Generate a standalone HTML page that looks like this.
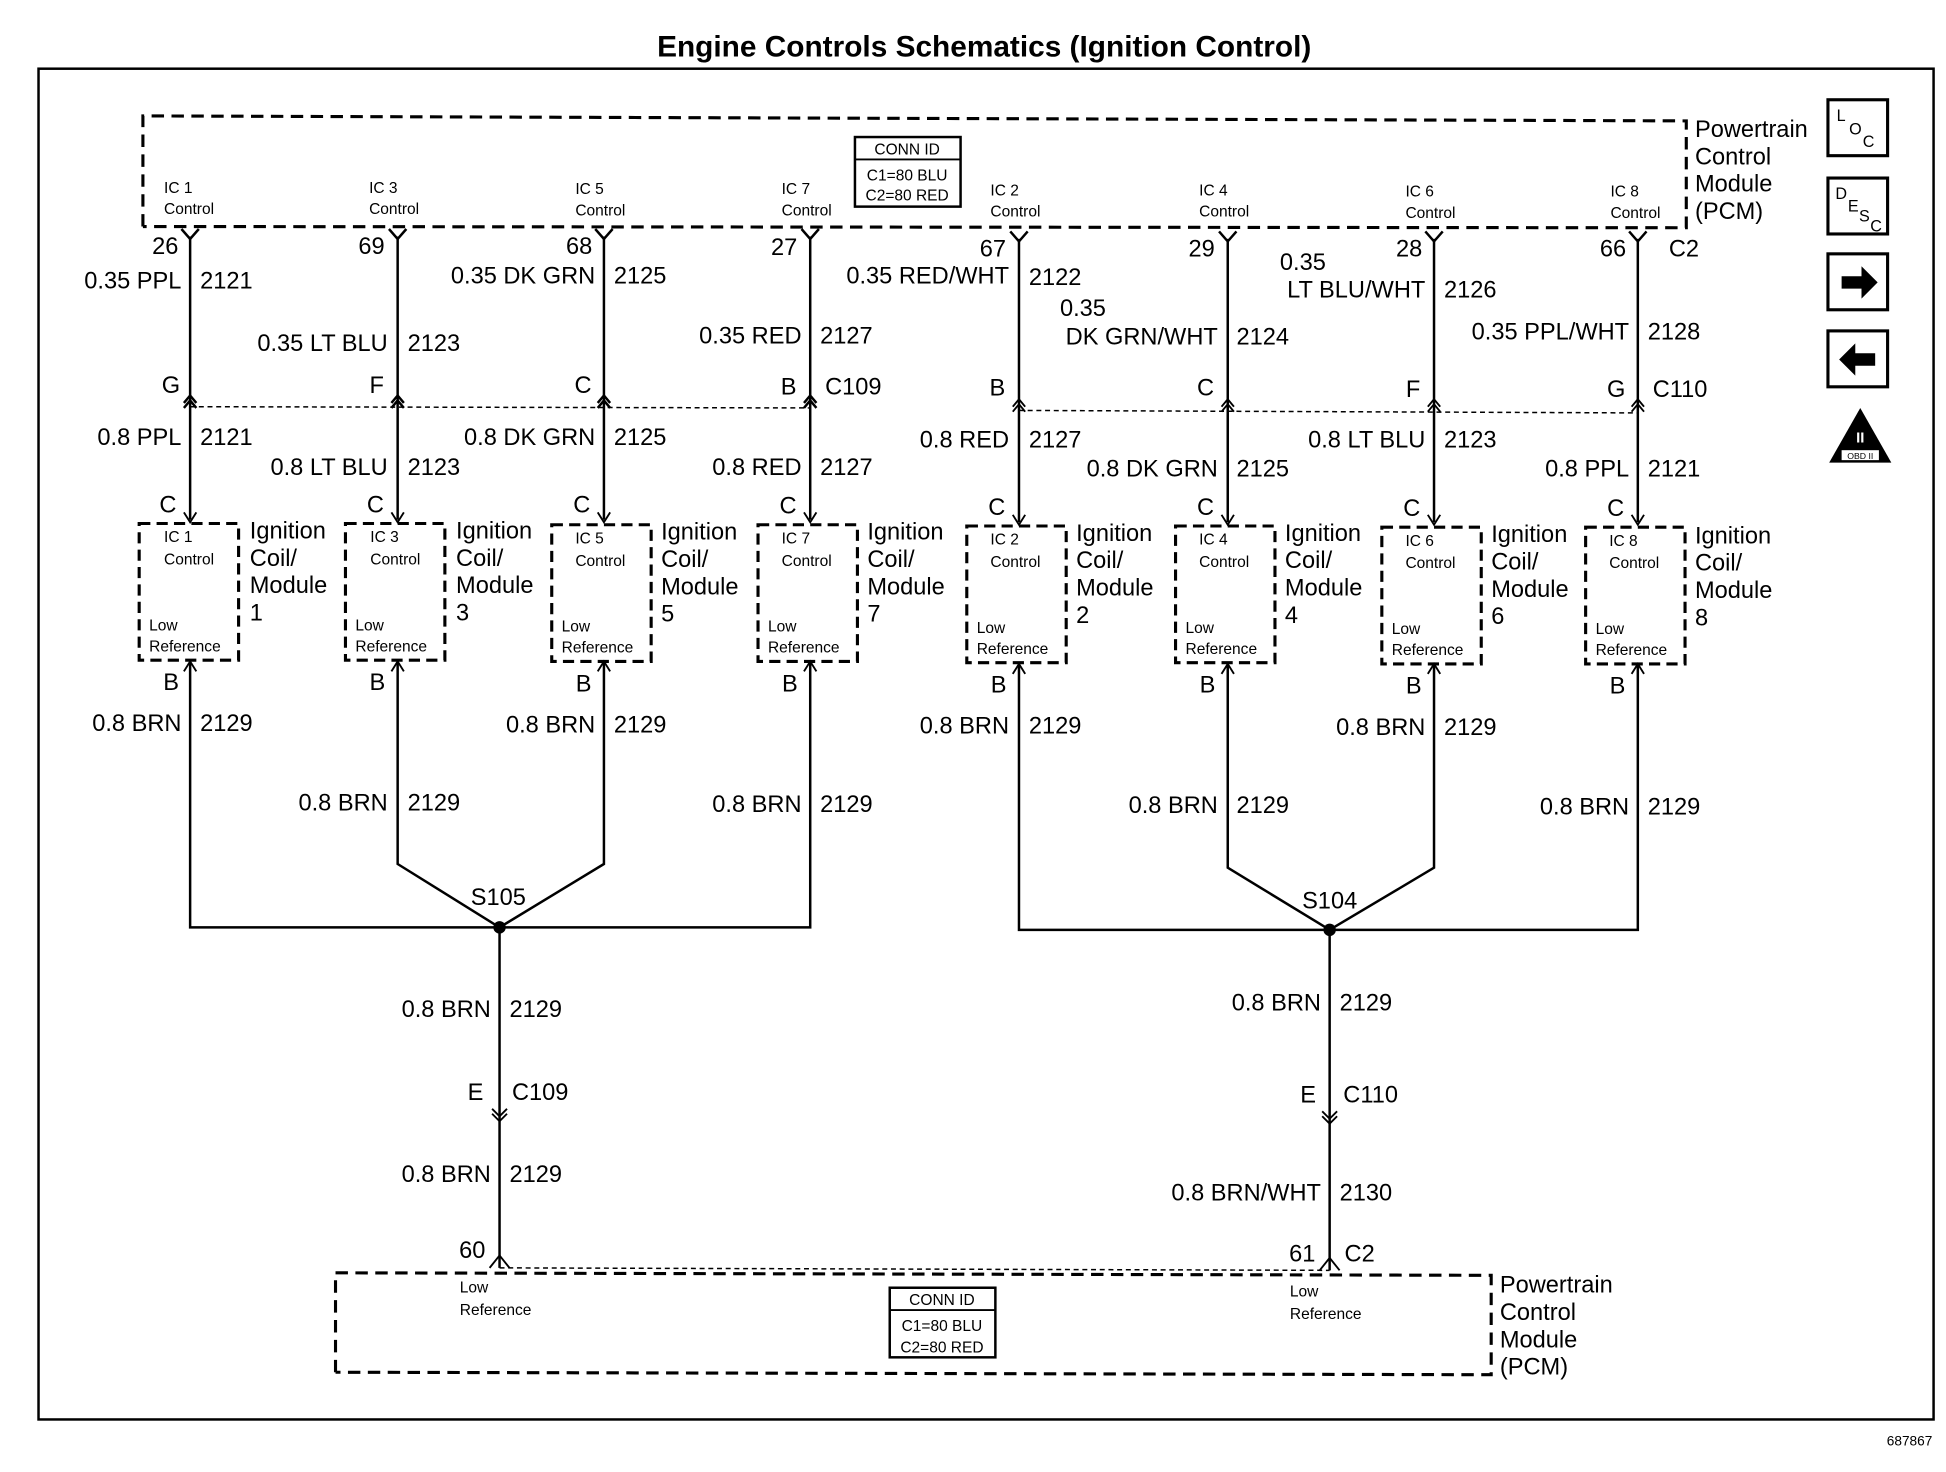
<!DOCTYPE html>
<html><head><meta charset="utf-8"><style>
html,body{margin:0;padding:0;background:#fff;}
svg{display:block}
text{font-family:"Liberation Sans",Arial,sans-serif;fill:#000}
.w{font-size:19px}
.s{font-size:12.5px}
.m{font-size:19px}
</style></head><body>
<svg width="1946" height="1472" viewBox="0 0 1566 1184" xmlns="http://www.w3.org/2000/svg">
<rect width="1566" height="1184" fill="#fff"/>
<text x="792" y="45" text-anchor="middle" style="font-size:24px;font-weight:bold">Engine Controls Schematics (Ignition Control)</text>
<rect x="31" y="55" width="1525" height="1087" fill="none" stroke="#000" stroke-width="2"/>

<path d="M115,182 L115,93 L1357,97 L1357,183 L115,182" fill="none" stroke="#000" stroke-width="2.5" stroke-dasharray="10,6"/>
<rect x="688" y="110" width="85" height="56" fill="none" stroke="#000" stroke-width="2"/>
<line x1="688" y1="128" x2="773" y2="128" stroke="#000" stroke-width="1.5"/>
<text x="730" y="124" text-anchor="middle" class="s">CONN ID</text>
<text x="730" y="145" text-anchor="middle" class="s">C1=80 BLU</text>
<text x="730" y="161" text-anchor="middle" class="s">C2=80 RED</text>
<text x="1364" y="110" class="m">Powertrain</text>
<text x="1364" y="132" class="m">Control</text>
<text x="1364" y="154" class="m">Module</text>
<text x="1364" y="176" class="m">(PCM)</text>

<path d="M270,1104 L270,1024 L1200,1026 L1200,1106 L270,1104" fill="none" stroke="#000" stroke-width="2.5" stroke-dasharray="10,6"/>
<rect x="716" y="1036" width="85" height="56" fill="none" stroke="#000" stroke-width="2"/>
<line x1="716" y1="1054" x2="801" y2="1054" stroke="#000" stroke-width="1.5"/>
<text x="758" y="1050" text-anchor="middle" class="s">CONN ID</text>
<text x="758" y="1071" text-anchor="middle" class="s">C1=80 BLU</text>
<text x="758" y="1088" text-anchor="middle" class="s">C2=80 RED</text>
<text x="1207" y="1040" class="m">Powertrain</text>
<text x="1207" y="1062" class="m">Control</text>
<text x="1207" y="1084" class="m">Module</text>
<text x="1207" y="1106" class="m">(PCM)</text>
<text x="370" y="1040" class="s">Low</text><text x="370" y="1058" class="s">Reference</text>
<text x="1038" y="1043" class="s">Low</text><text x="1038" y="1061" class="s">Reference</text>
<text x="380" y="1012" text-anchor="middle" class="w">60</text>
<text x="1048" y="1015" text-anchor="middle" class="w">61</text>
<text x="1082" y="1015" class="w">C2</text>
<path d="M394,1020 L402,1010 L410,1020 M1062,1022 L1070,1012 L1078,1022" fill="none" stroke="#000" stroke-width="1.5"/>
<line x1="402" y1="1020" x2="1070" y2="1022" stroke="#000" stroke-width="1.2" stroke-dasharray="4,3"/>

<line x1="153" y1="327" x2="652" y2="328" stroke="#000" stroke-width="1.2" stroke-dasharray="4,3"/>
<line x1="820" y1="330" x2="1318" y2="332" stroke="#000" stroke-width="1.2" stroke-dasharray="4,3"/>
<text x="664" y="317" class="w">C109</text>
<text x="1330" y="319" class="w">C110</text>
<text x="1343" y="206" class="w">C2</text>

<g stroke="#000" stroke-width="2" fill="none">
<path d="M153,190V418 M320,190V418 M486,190V418 M652,190V418 M820,192V420 M988,192V420 M1154,192V420 M1318,192V420"/>
<path d="M146,184L153,192L160,184 M313,184L320,192L327,184 M479,184L486,192L493,184 M645,184L652,192L659,184 M813,186L820,194L827,186 M981,186L988,194L995,186 M1147,186L1154,194L1161,186 M1311,186L1318,194L1325,186"/>
<path d="M148,324L153,318L158,324 M148,328L153,322L158,328 M315,324L320,318L325,324 M315,328L320,322L325,328 M481,324L486,318L491,324 M481,328L486,322L491,328 M647,324L652,318L657,324 M647,328L652,322L657,328"/>
<path d="M815,327L820,321L825,327 M815,331L820,325L825,331 M983,327L988,321L993,327 M983,331L988,325L993,331 M1149,327L1154,321L1159,327 M1149,331L1154,325L1159,331 M1313,327L1318,321L1323,327 M1313,331L1318,325L1323,331" stroke-width="1.5"/>
<path d="M148,412L153,420L158,412 M315,412L320,420L325,412 M481,412L486,420L491,412 M647,412L652,420L657,412 M815,414L820,422L825,414 M983,414L988,422L993,414 M1149,414L1154,422L1159,414 M1313,414L1318,422L1323,414" stroke-width="1.5"/>
<path d="M148,540L153,532L158,540 M315,540L320,532L325,540 M481,540L486,532L491,540 M647,540L652,532L657,540 M815,542L820,534L825,542 M983,542L988,534L993,542 M1149,542L1154,534L1159,542 M1313,542L1318,534L1323,542" stroke-width="1.5"/>
<path d="M153,533V746H652V533 M320,533V695L402,746L486,695V533 M402,746V1020"/>
<path d="M820,535V748H1318V535 M988,535V698L1070,748L1154,698V535 M1070,748V1022"/>
<path d="M396,892L402,898L408,892 M396,896L402,902L408,896 M1064,894L1070,900L1076,894 M1064,898L1070,904L1076,898" stroke-width="1.5"/>
</g>
<circle cx="402" cy="746" r="5" fill="#000"/>
<circle cx="1070" cy="748" r="5" fill="#000"/>

<g fill="none" stroke="#000" stroke-width="2.5" stroke-dasharray="9,5">
<rect x="112" y="421" width="80" height="110"/>
<rect x="278" y="421" width="80" height="110"/>
<rect x="444" y="422" width="80" height="110"/>
<rect x="610" y="422" width="80" height="110"/>
<rect x="778" y="423" width="80" height="110"/>
<rect x="946" y="423" width="80" height="110"/>
<rect x="1112" y="424" width="80" height="110"/>
<rect x="1276" y="424" width="80" height="110"/>
</g>

<g class="s">
<text x="132" y="436" class="s">IC 1</text><text x="132" y="454" class="s">Control</text><text x="120" y="507" class="s">Low</text><text x="120" y="524" class="s">Reference</text>
<text x="298" y="436" class="s">IC 3</text><text x="298" y="454" class="s">Control</text><text x="286" y="507" class="s">Low</text><text x="286" y="524" class="s">Reference</text>
<text x="463" y="437" class="s">IC 5</text><text x="463" y="455" class="s">Control</text><text x="452" y="508" class="s">Low</text><text x="452" y="525" class="s">Reference</text>
<text x="629" y="437" class="s">IC 7</text><text x="629" y="455" class="s">Control</text><text x="618" y="508" class="s">Low</text><text x="618" y="525" class="s">Reference</text>
<text x="797" y="438" class="s">IC 2</text><text x="797" y="456" class="s">Control</text><text x="786" y="509" class="s">Low</text><text x="786" y="526" class="s">Reference</text>
<text x="965" y="438" class="s">IC 4</text><text x="965" y="456" class="s">Control</text><text x="954" y="509" class="s">Low</text><text x="954" y="526" class="s">Reference</text>
<text x="1131" y="439" class="s">IC 6</text><text x="1131" y="457" class="s">Control</text><text x="1120" y="510" class="s">Low</text><text x="1120" y="527" class="s">Reference</text>
<text x="1295" y="439" class="s">IC 8</text><text x="1295" y="457" class="s">Control</text><text x="1284" y="510" class="s">Low</text><text x="1284" y="527" class="s">Reference</text>
<text x="132" y="155">IC 1</text><text x="132" y="172">Control</text>
<text x="297" y="155">IC 3</text><text x="297" y="172">Control</text>
<text x="463" y="156">IC 5</text><text x="463" y="173">Control</text>
<text x="629" y="156">IC 7</text><text x="629" y="173">Control</text>
<text x="797" y="157">IC 2</text><text x="797" y="174">Control</text>
<text x="965" y="157">IC 4</text><text x="965" y="174">Control</text>
<text x="1131" y="158">IC 6</text><text x="1131" y="175">Control</text>
<text x="1296" y="158">IC 8</text><text x="1296" y="175">Control</text>
</g>

<g class="m">
<text x="201" y="433">Ignition</text><text x="201" y="455">Coil/</text><text x="201" y="477">Module</text><text x="201" y="499">1</text>
<text x="367" y="433">Ignition</text><text x="367" y="455">Coil/</text><text x="367" y="477">Module</text><text x="367" y="499">3</text>
<text x="532" y="434">Ignition</text><text x="532" y="456">Coil/</text><text x="532" y="478">Module</text><text x="532" y="500">5</text>
<text x="698" y="434">Ignition</text><text x="698" y="456">Coil/</text><text x="698" y="478">Module</text><text x="698" y="500">7</text>
<text x="866" y="435">Ignition</text><text x="866" y="457">Coil/</text><text x="866" y="479">Module</text><text x="866" y="501">2</text>
<text x="1034" y="435">Ignition</text><text x="1034" y="457">Coil/</text><text x="1034" y="479">Module</text><text x="1034" y="501">4</text>
<text x="1200" y="436">Ignition</text><text x="1200" y="458">Coil/</text><text x="1200" y="480">Module</text><text x="1200" y="502">6</text>
<text x="1364" y="437">Ignition</text><text x="1364" y="459">Coil/</text><text x="1364" y="481">Module</text><text x="1364" y="503">8</text>
</g>

<g class="w">
<text x="133" y="204" text-anchor="middle">26</text>
<text x="299" y="204" text-anchor="middle">69</text>
<text x="466" y="204" text-anchor="middle">68</text>
<text x="631" y="205" text-anchor="middle">27</text>
<text x="799" y="206" text-anchor="middle">67</text>
<text x="967" y="206" text-anchor="middle">29</text>
<text x="1134" y="206" text-anchor="middle">28</text>
<text x="1298" y="206" text-anchor="middle">66</text>
<text x="146" y="232" text-anchor="end">0.35 PPL</text><text x="161" y="232">2121</text>
<text x="312" y="282" text-anchor="end">0.35 LT BLU</text><text x="328" y="282">2123</text>
<text x="479" y="228" text-anchor="end">0.35 DK GRN</text><text x="494" y="228">2125</text>
<text x="645" y="276" text-anchor="end">0.35 RED</text><text x="660" y="276">2127</text>
<text x="812" y="228" text-anchor="end">0.35 RED/WHT</text><text x="828" y="229">2122</text>
<text x="853" y="254">0.35</text>
<text x="980" y="277" text-anchor="end">DK GRN/WHT</text><text x="995" y="277">2124</text>
<text x="1030" y="217">0.35</text>
<text x="1147" y="239" text-anchor="end">LT BLU/WHT</text><text x="1162" y="239">2126</text>
<text x="1311" y="273" text-anchor="end">0.35 PPL/WHT</text><text x="1326" y="273">2128</text>
<text x="145" y="316" text-anchor="end">G</text>
<text x="309" y="316" text-anchor="end">F</text>
<text x="476" y="316" text-anchor="end">C</text>
<text x="641" y="317" text-anchor="end">B</text>
<text x="809" y="318" text-anchor="end">B</text>
<text x="977" y="318" text-anchor="end">C</text>
<text x="1143" y="319" text-anchor="end">F</text>
<text x="1308" y="319" text-anchor="end">G</text>
<text x="146" y="358" text-anchor="end">0.8 PPL</text><text x="161" y="358">2121</text>
<text x="312" y="382" text-anchor="end">0.8 LT BLU</text><text x="328" y="382">2123</text>
<text x="479" y="358" text-anchor="end">0.8 DK GRN</text><text x="494" y="358">2125</text>
<text x="645" y="382" text-anchor="end">0.8 RED</text><text x="660" y="382">2127</text>
<text x="812" y="360" text-anchor="end">0.8 RED</text><text x="828" y="360">2127</text>
<text x="980" y="383" text-anchor="end">0.8 DK GRN</text><text x="995" y="383">2125</text>
<text x="1147" y="360" text-anchor="end">0.8 LT BLU</text><text x="1162" y="360">2123</text>
<text x="1311" y="383" text-anchor="end">0.8 PPL</text><text x="1326" y="383">2121</text>
<text x="142" y="412" text-anchor="end">C</text>
<text x="309" y="412" text-anchor="end">C</text>
<text x="475" y="412" text-anchor="end">C</text>
<text x="641" y="413" text-anchor="end">C</text>
<text x="809" y="414" text-anchor="end">C</text>
<text x="977" y="414" text-anchor="end">C</text>
<text x="1143" y="415" text-anchor="end">C</text>
<text x="1307" y="415" text-anchor="end">C</text>
<text x="144" y="555" text-anchor="end">B</text>
<text x="310" y="555" text-anchor="end">B</text>
<text x="476" y="556" text-anchor="end">B</text>
<text x="642" y="556" text-anchor="end">B</text>
<text x="810" y="557" text-anchor="end">B</text>
<text x="978" y="557" text-anchor="end">B</text>
<text x="1144" y="558" text-anchor="end">B</text>
<text x="1308" y="558" text-anchor="end">B</text>
<text x="146" y="588" text-anchor="end">0.8 BRN</text><text x="161" y="588">2129</text>
<text x="312" y="652" text-anchor="end">0.8 BRN</text><text x="328" y="652">2129</text>
<text x="479" y="589" text-anchor="end">0.8 BRN</text><text x="494" y="589">2129</text>
<text x="645" y="653" text-anchor="end">0.8 BRN</text><text x="660" y="653">2129</text>
<text x="812" y="590" text-anchor="end">0.8 BRN</text><text x="828" y="590">2129</text>
<text x="980" y="654" text-anchor="end">0.8 BRN</text><text x="995" y="654">2129</text>
<text x="1147" y="591" text-anchor="end">0.8 BRN</text><text x="1162" y="591">2129</text>
<text x="1311" y="655" text-anchor="end">0.8 BRN</text><text x="1326" y="655">2129</text>
<text x="401" y="728" text-anchor="middle">S105</text>
<text x="1070" y="731" text-anchor="middle">S104</text>
<text x="395" y="818" text-anchor="end">0.8 BRN</text><text x="410" y="818">2129</text>
<text x="389" y="885" text-anchor="end">E</text><text x="412" y="885">C109</text>
<text x="395" y="951" text-anchor="end">0.8 BRN</text><text x="410" y="951">2129</text>
<text x="1063" y="813" text-anchor="end">0.8 BRN</text><text x="1078" y="813">2129</text>
<text x="1059" y="887" text-anchor="end">E</text><text x="1081" y="887">C110</text>
<text x="1063" y="966" text-anchor="end">0.8 BRN/WHT</text><text x="1078" y="966">2130</text>
</g>

<g fill="none" stroke="#000" stroke-width="2.5">
<rect x="1471" y="80" width="48" height="45"/>
<rect x="1471" y="143" width="48" height="45"/>
<rect x="1471" y="204" width="48" height="45"/>
<rect x="1471" y="266" width="48" height="45"/>
</g>
<text x="1478" y="97" style="font-size:13px">L</text><text x="1488" y="108" style="font-size:13px">O</text><text x="1499" y="118" style="font-size:13px">C</text>
<text x="1477" y="160" style="font-size:13px">D</text><text x="1487" y="170" style="font-size:13px">E</text><text x="1496" y="178" style="font-size:13px">S</text><text x="1505" y="186" style="font-size:13px">C</text>
<path d="M1482,222h16v-8l13,13l-13,13v-8h-16z" fill="#000"/>
<path d="M1509,284h-16v-8l-13,13l13,13v-8h16z" fill="#000"/>
<path d="M1497,328L1522,372H1472Z" fill="#000"/>
<rect x="1482" y="362" width="30" height="8" fill="#fff"/>
<text x="1497" y="369" text-anchor="middle" style="font-size:7px">OBD II</text>
<text x="1497" y="356" text-anchor="middle" style="font-size:12px;fill:#fff;font-weight:bold">II</text>
<text x="1555" y="1163" text-anchor="end" style="font-size:11px">687867</text>
</svg>
</body></html>
